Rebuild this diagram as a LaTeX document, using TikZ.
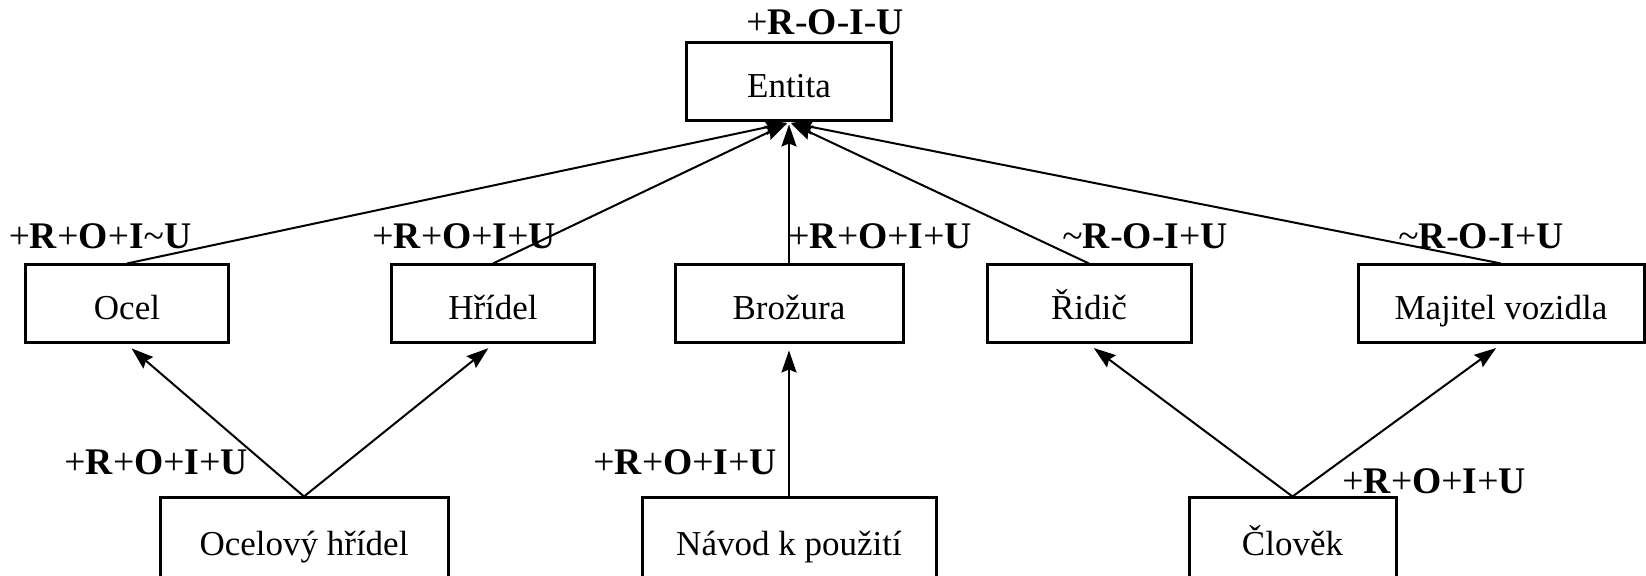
\documentclass[tikz,border=0pt]{standalone}
\usepackage{fontspec}
\setmainfont{Liberation Serif}
\usetikzlibrary{arrows.meta}
\newcommand\lb[1]{\textbf{#1}}
\newcommand\tl{\textasciitilde}
\begin{document}
\begin{tikzpicture}[x=0.5pt,y=-0.5pt,
  ent/.style={draw,line width=1.5pt,inner sep=0pt,minimum height=39pt,
    text height=15.5pt,text depth=0pt,
    font=\fontsize{17.5}{21}\selectfont},
  lab/.style={inner sep=0pt,anchor=base,font=\fontsize{18.8}{22}\selectfont},
  arr/.style={line width=1pt,-{Stealth[length=11pt,width=7.5pt,inset=1.5pt]}}]
\useasboundingbox (0,0) rectangle (1646,576);
% entities
\node[ent,minimum width=102.5pt] (entita) at (789,82) {Entita};
\node[ent,minimum width=101.5pt] (ocel) at (127,304) {Ocel};
\node[ent,minimum width=101.5pt] (hridel) at (493,304) {Hřídel};
\node[ent,minimum width=114pt] (brozura) at (789,304) {Brožura};
\node[ent,minimum width=102pt] (ridic) at (1089,304) {Řidič};
\node[ent,minimum width=143pt] (majitel) at (1501,304) {Majitel vozidla};
\node[ent,minimum width=144pt,minimum height=42pt] (oh) at (304,540) {Ocelový hřídel};
\node[ent,minimum width=147pt,minimum height=42pt] (navod) at (789,540) {Návod k použití};
\node[ent,minimum width=103.5pt,minimum height=42pt] (clovek) at (1292.5,540) {Člověk};
% connectors up to Entita
\draw[arr,shorten >=1pt] (ocel.north) -- (entita.south);
\draw[arr,shorten >=1pt] (hridel.north) -- (entita.south);
\draw[arr,shorten >=1pt] (brozura.north) -- (entita.south);
\draw[arr,shorten >=1pt] (ridic.north) -- (entita.south);
\draw[arr,shorten >=1pt] (majitel.north) -- (entita.south);
% lower connectors
\draw[arr,shorten >=3pt] (oh.north) -- (ocel.south);
\draw[arr,shorten >=3pt] (oh.north) -- (hridel.south);
\draw[arr,shorten >=3pt] (navod.north) -- (brozura.south);
\draw[arr,shorten >=3pt] (clovek.north) -- (ridic.south);
\draw[arr,shorten >=3pt] (clovek.north) -- (majitel.south);
% labels
\node[lab] (l0) at (825,35) {+\lb{R}-\lb{O}-\lb{I}-\lb{U}};
\node[lab] (l1) at (100,249) {+\lb{R}+\lb{O}+\lb{I}\tl\lb{U}};
\node[lab] (l2) at (464,249) {+\lb{R}+\lb{O}+\lb{I}+\lb{U}};
\node[lab] (l3) at (880,249) {+\lb{R}+\lb{O}+\lb{I}+\lb{U}};
\node[lab] (l4) at (1145,249) {\tl\lb{R}-\lb{O}-\lb{I}+\lb{U}};
\node[lab] (l5) at (1481,249) {\tl\lb{R}-\lb{O}-\lb{I}+\lb{U}};
\node[lab] (l6) at (156,475) {+\lb{R}+\lb{O}+\lb{I}+\lb{U}};
\node[lab] (l7) at (685,475) {+\lb{R}+\lb{O}+\lb{I}+\lb{U}};
\node[lab] (l8) at (1434,494) {+\lb{R}+\lb{O}+\lb{I}+\lb{U}};
\end{tikzpicture}
\end{document}
